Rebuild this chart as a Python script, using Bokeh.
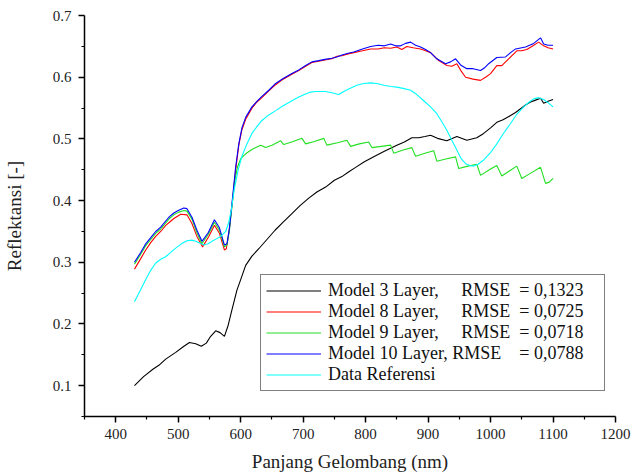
from bokeh.plotting import figure
from bokeh.models import FixedTicker, NumeralTickFormatter
from bokeh.embed import file_html
from bokeh.resources import INLINE

# Spectral reflectance curves (wavelength in nm, reflectance unitless)
wl_m3 = [430, 445, 460, 469, 480, 496, 508, 518, 528, 537, 545, 552, 560, 567, 574,
         580, 586, 594, 600, 608, 618, 629, 642, 655, 668, 682, 695, 709, 722, 736,
         750, 762, 772, 784, 798, 813, 830, 850, 862, 874, 885, 895, 904, 915, 930,
         946, 962, 978, 989, 1000, 1010, 1020, 1032, 1040, 1048, 1056, 1064, 1072,
         1080, 1085, 1092, 1100]
r_m3 = [0.100, 0.115, 0.127, 0.133, 0.143, 0.154, 0.163, 0.170, 0.168, 0.164, 0.169,
        0.180, 0.189, 0.186, 0.180, 0.198, 0.223, 0.255, 0.272, 0.295, 0.310, 0.322,
        0.337, 0.352, 0.365, 0.379, 0.392, 0.404, 0.414, 0.422, 0.433, 0.439, 0.446,
        0.454, 0.463, 0.471, 0.480, 0.490, 0.495, 0.502, 0.502, 0.504, 0.506, 0.501,
        0.497, 0.504, 0.498, 0.502, 0.509, 0.518, 0.527, 0.531, 0.538, 0.543, 0.549,
        0.555, 0.560, 0.563, 0.566, 0.558, 0.561, 0.564]

wl_m8 = [430, 440, 448, 456, 464, 472, 480, 486, 493, 504, 514, 522, 530, 539, 549,
         558, 566, 574, 577, 581, 587, 592, 597, 602, 608, 618, 626, 634, 645, 656,
         668, 682, 693, 704, 714, 725, 735, 746, 754, 762, 772, 781, 795, 808, 820,
         830, 840, 850, 858, 866, 876, 888, 896, 904, 917, 930, 938, 946, 953, 960,
         972, 984, 992, 1000, 1010, 1018, 1029, 1042, 1050, 1058, 1066, 1077, 1085,
         1092, 1100]
r_m8 = [0.289, 0.306, 0.320, 0.332, 0.342, 0.350, 0.360, 0.365, 0.371, 0.378, 0.377,
        0.363, 0.342, 0.325, 0.342, 0.360, 0.347, 0.320, 0.322, 0.347, 0.401, 0.450,
        0.490, 0.515, 0.532, 0.550, 0.560, 0.567, 0.578, 0.588, 0.597, 0.605, 0.611,
        0.618, 0.624, 0.626, 0.628, 0.630, 0.634, 0.635, 0.638, 0.640, 0.643, 0.646,
        0.646, 0.648, 0.647, 0.649, 0.645, 0.650, 0.648, 0.646, 0.643, 0.640, 0.627,
        0.619, 0.618, 0.622, 0.610, 0.600, 0.597, 0.595, 0.600, 0.606, 0.619, 0.619,
        0.630, 0.643, 0.643, 0.645, 0.650, 0.657, 0.651, 0.648, 0.646]

wl_m9 = [430, 440, 448, 456, 464, 472, 480, 486, 493, 500, 509, 514, 522, 530, 538,
         548, 558, 566, 574, 578, 582, 587, 591, 595, 600, 608, 618, 632, 640, 650,
         664, 669, 684, 698, 704, 718, 733, 738, 755, 770, 776, 790, 805, 810, 825,
         840, 845, 860, 874, 880, 895, 909, 914, 930, 944, 949, 964, 978, 984, 998,
         1010, 1018, 1030, 1042, 1050, 1065, 1080, 1088, 1094, 1100]
r_m9 = [0.297, 0.313, 0.327, 0.337, 0.347, 0.354, 0.364, 0.371, 0.377, 0.381, 0.384,
        0.383, 0.370, 0.348, 0.330, 0.345, 0.365, 0.352, 0.325, 0.328, 0.352, 0.400,
        0.435, 0.455, 0.468, 0.476, 0.483, 0.490, 0.486, 0.490, 0.497, 0.491, 0.496,
        0.501, 0.492, 0.496, 0.501, 0.490, 0.494, 0.498, 0.488, 0.492, 0.495, 0.486,
        0.488, 0.490, 0.477, 0.482, 0.486, 0.472, 0.477, 0.481, 0.464, 0.468, 0.471,
        0.452, 0.456, 0.459, 0.441, 0.450, 0.457, 0.440, 0.448, 0.456, 0.436, 0.445,
        0.454, 0.428, 0.430, 0.436]

wl_m10 = [430, 440, 448, 456, 464, 472, 480, 486, 493, 500, 509, 514, 522, 530, 538,
          548, 558, 566, 574, 578, 582, 587, 592, 597, 602, 608, 618, 626, 634, 645,
          656, 668, 682, 693, 704, 714, 725, 735, 746, 754, 762, 772, 781, 795, 808,
          820, 830, 840, 848, 856, 864, 872, 880, 888, 896, 904, 914, 928, 936, 944,
          952, 962, 972, 984, 990, 997, 1010, 1024, 1032, 1040, 1056, 1069, 1080,
          1085, 1092, 1100]
r_m10 = [0.300, 0.316, 0.330, 0.340, 0.350, 0.357, 0.367, 0.374, 0.380, 0.384, 0.388,
         0.387, 0.373, 0.352, 0.334, 0.348, 0.369, 0.356, 0.328, 0.330, 0.355, 0.405,
         0.455, 0.492, 0.518, 0.535, 0.552, 0.561, 0.569, 0.579, 0.590, 0.598, 0.606,
         0.612, 0.619, 0.625, 0.627, 0.629, 0.631, 0.633, 0.636, 0.639, 0.641, 0.646,
         0.650, 0.652, 0.651, 0.654, 0.651, 0.651, 0.655, 0.657, 0.652, 0.649, 0.645,
         0.640, 0.630, 0.622, 0.625, 0.630, 0.620, 0.614, 0.614, 0.611, 0.615, 0.622,
         0.632, 0.633, 0.640, 0.646, 0.649, 0.655, 0.664, 0.654, 0.652, 0.652]

wl_ref = [430, 440, 448, 456, 464, 472, 480, 488, 496, 505, 514, 522, 528, 535, 541,
          548, 554, 561, 568, 576, 581, 585, 590, 596, 602, 610, 618, 626, 634, 645,
          656, 668, 682, 693, 704, 712, 720, 736, 746, 757, 765, 773, 786, 797, 808,
          818, 829, 840, 850, 860, 872, 882, 893, 904, 914, 922, 930, 938, 946, 953,
          960, 967, 973, 980, 989, 1000, 1010, 1020, 1032, 1042, 1053, 1062, 1069,
          1077, 1085, 1092, 1100]
r_ref = [0.236, 0.256, 0.272, 0.287, 0.299, 0.305, 0.309, 0.316, 0.323, 0.330, 0.335,
         0.336, 0.334, 0.331, 0.328, 0.330, 0.334, 0.338, 0.342, 0.350, 0.365, 0.385,
         0.420, 0.450, 0.472, 0.492, 0.509, 0.520, 0.530, 0.539, 0.546, 0.554, 0.562,
         0.568, 0.573, 0.576, 0.577, 0.577, 0.575, 0.572, 0.577, 0.581, 0.587, 0.590,
         0.591, 0.590, 0.587, 0.585, 0.584, 0.582, 0.579, 0.572, 0.562, 0.552, 0.541,
         0.528, 0.514, 0.498, 0.482, 0.468, 0.460, 0.457, 0.456, 0.459, 0.466, 0.478,
         0.492, 0.508, 0.525, 0.540, 0.552, 0.560, 0.565, 0.567, 0.564, 0.559, 0.552]

series_labels = [
    "Model 3 Layer,     RMSE  = 0,1323",
    "Model 8 Layer,     RMSE  = 0,0725",
    "Model 9 Layer,     RMSE  = 0,0718",
    "Model 10 Layer, RMSE    = 0,0788",
    "Data Referensi",
]

x_major = [400, 500, 600, 700, 800, 900, 1000, 1100, 1200]
x_minor = [350, 450, 550, 650, 750, 850, 950, 1050, 1150]
y_major = [0.1, 0.2, 0.3, 0.4, 0.5, 0.6, 0.7]
y_minor = [0.05, 0.15, 0.25, 0.35, 0.45, 0.55, 0.65]

FONT = "Liberation Serif"

p = figure(width=633, height=474, x_range=(350, 1200), y_range=(0.05, 0.7002),
           output_backend="svg", toolbar_location=None,
           min_border_left=84, min_border_right=18, min_border_top=15,
           min_border_bottom=56)
p.outline_line_color = None
p.grid.visible = False
p.background_fill_color = "white"
p.border_fill_color = "white"

lw = 1.1
p.line(wl_m3, r_m3, color="black", line_width=lw, legend_label=series_labels[0])
p.line(wl_m8, r_m8, color="#ff0000", line_width=lw, legend_label=series_labels[1])
p.line(wl_m9, r_m9, color="#22e022", line_width=lw, legend_label=series_labels[2])
p.line(wl_m10, r_m10, color="#0000ff", line_width=lw, legend_label=series_labels[3])
p.line(wl_ref, r_ref, color="#00ffff", line_width=lw, legend_label=series_labels[4])

p.xaxis.ticker = FixedTicker(ticks=x_major, minor_ticks=x_minor)
p.yaxis.ticker = FixedTicker(ticks=y_major, minor_ticks=y_minor)
p.yaxis.formatter = NumeralTickFormatter(format="0.0")

p.axis.axis_line_width = 1.5
p.axis.axis_line_color = "black"
p.axis.major_tick_line_width = 1.5
p.axis.minor_tick_line_width = 1.2
p.axis.major_tick_line_color = "black"
p.axis.minor_tick_line_color = "black"
p.axis.major_tick_out = 6
p.axis.major_tick_in = 0
p.axis.minor_tick_out = 3
p.axis.minor_tick_in = 0
p.axis.major_label_text_font = FONT
p.axis.major_label_text_font_size = "15px"
p.axis.major_label_text_color = "#222222"
p.axis.axis_label_text_font = FONT
p.axis.axis_label_text_font_size = "19px"
p.axis.axis_label_text_font_style = "normal"
p.axis.axis_label_text_color = "#222222"

p.xaxis.axis_label = "Panjang Gelombang (nm)"
p.yaxis.axis_label = "Reflektansi [-]"
p.xaxis.major_label_standoff = 6
p.yaxis.major_label_standoff = 7
p.xaxis.axis_label_standoff = 9
p.yaxis.axis_label_standoff = 25

leg = p.legend[0]
leg.location = (176, 25)
leg.label_text_font = FONT
leg.label_text_font_size = "18px"
leg.label_text_color = "#111111"
leg.label_height = 21
leg.glyph_height = 21
leg.glyph_width = 55
leg.label_standoff = 7
leg.label_width = 271
leg.spacing = 0
leg.padding = 5
leg.margin = 0
leg.border_line_color = "black"
leg.border_line_width = 1
leg.background_fill_alpha = 1.0

open("out.html", "w").write(file_html(p, INLINE))
